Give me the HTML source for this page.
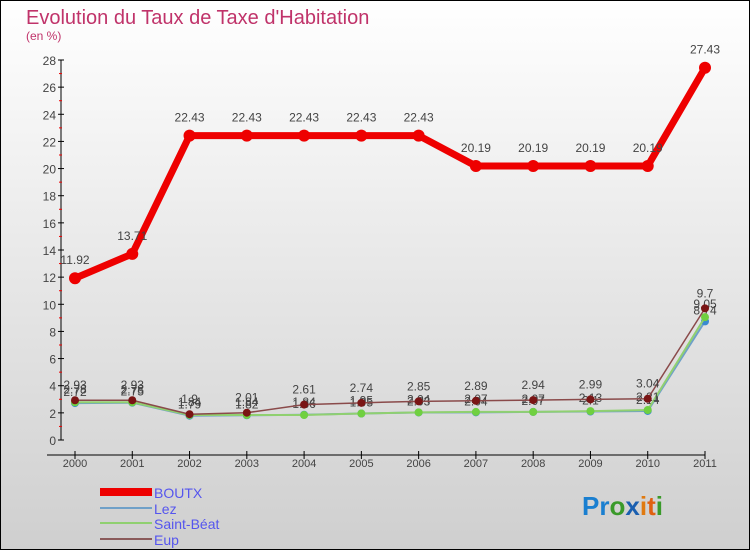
<!DOCTYPE html>
<html><head><meta charset="utf-8"><style>
html,body{margin:0;padding:0}
body{width:750px;height:550px;overflow:hidden;font-family:"Liberation Sans",sans-serif}
svg{display:block}
</style></head><body>
<svg id="chart" width="750" height="550" xmlns="http://www.w3.org/2000/svg">
<defs><linearGradient id="bg" x1="0" y1="0" x2="0" y2="1"><stop offset="0" stop-color="#ffffff"/><stop offset="1" stop-color="#cfcfcf"/></linearGradient></defs>
<rect x="0.5" y="0.5" width="749" height="549" fill="url(#bg)" stroke="#000"/>
<text x="26" y="24" font-size="20" fill="#c0336a">Evolution du Taux de Taxe d'Habitation</text>
<text x="26" y="40" font-size="12" fill="#c0336a">(en %)</text>
<g id="axes"></g>
<g id="series"></g>
<g id="legend">
<rect x="100" y="488" width="52" height="8" fill="#ee0000"/>
<text x="154" y="498" font-size="14" fill="#5555ee">BOUTX</text>
<rect x="100" y="507" width="52" height="2" fill="#6fa0c8"/>
<text x="154" y="514" font-size="14" fill="#5555ee">Lez</text>
<rect x="100" y="522" width="52" height="2" fill="#90d070"/>
<text x="154" y="529" font-size="14" fill="#5555ee">Saint-Béat</text>
<rect x="100" y="538" width="52" height="2" fill="#8a5a5a"/>
<text x="154" y="545" font-size="14" fill="#5555ee">Eup</text>
</g>
<g font-size="26" font-weight="bold">
<text x="582" y="515"><tspan fill="#1a7fd0">Pr</tspan><tspan fill="#3a9a2a">o</tspan><tspan fill="#1a5fb0">x</tspan><tspan fill="#e07a10">i</tspan><tspan fill="#e06010">t</tspan><tspan fill="#3a9a2a">i</tspan></text>
</g>
</svg>
<script>
const years=[2000,2001,2002,2003,2004,2005,2006,2007,2008,2009,2010,2011];
const boutx=[11.92,13.71,22.43,22.43,22.43,22.43,22.43,20.19,20.19,20.19,20.19,27.43];
const lez=[2.72,2.75,1.79,1.82,1.86,1.95,2.03,2.04,2.07,2.10,2.14,8.74];
const saintBeat=[2.78,2.78,1.84,1.84,1.84,1.95,2.04,2.07,2.07,2.13,2.21,9.05];
const eup=[2.93,2.93,1.90,2.01,2.61,2.74,2.85,2.89,2.94,2.99,3.04,9.7];
const yTicks=[0,2,4,6,8,10,12,14,16,18,20,22,24,26,28];
const NS="http://www.w3.org/2000/svg";
const x0=75,x1=705,yb=440,yt=60,yMax=28;
const X=i=>x0+(x1-x0)*i/(years.length-1);
const Y=v=>yb-(yb-yt)*v/yMax;
function mk(tag,attrs,parent){const e=document.createElementNS(NS,tag);for(const k in attrs)e.setAttribute(k,attrs[k]);parent.appendChild(e);return e;}
const axes=document.getElementById('axes');
let a=mk('line',{x1:61,y1:yt,x2:61,y2:yb,stroke:'#000'},axes);


a=mk('line',{x1:x0-28,y1:455,x2:x1,y2:455,stroke:'#000'},axes);


yTicks.forEach(t=>{
  mk('line',{x1:58,y1:Y(t),x2:64,y2:Y(t),stroke:'#000'},axes);
  if(t<yMax) mk('line',{x1:59,y1:Y(t+1),x2:62,y2:Y(t+1),stroke:'#e00'},axes);
  const tx=mk('text',{x:56,y:Y(t)+5,'font-size':12,fill:'#444','text-anchor':'end'},axes);
  tx.textContent=t;
  
  
});
years.forEach((yr,i)=>{
  mk('line',{x1:X(i),y1:451,x2:X(i),y2:459,stroke:'#000'},axes);
  const tx=mk('text',{x:X(i),y:467,'font-size':11,fill:'#444','text-anchor':'middle'},axes);
  tx.textContent=yr;
  
  
});
const sg=document.getElementById('series');
function draw(vals,name,color,w,r,dot,labelOff){
  const g=mk('g',{},sg);
  
  
  const p=mk('polyline',{points:vals.map((v,i)=>X(i)+','+Y(v)).join(' '),fill:'none',stroke:color,'stroke-width':w,'stroke-linejoin':'round'},g);
  
  
  vals.forEach((v,i)=>{
    const c=mk('circle',{cx:X(i),cy:Y(v),r:r,fill:dot},g);
    
    
    const t=mk('text',{x:X(i),y:Y(v)-labelOff,'font-size':12,fill:'#444','text-anchor':'middle'},g);
    t.textContent=v;
    
    
  });
}
draw(lez,'lez','#6fa0c8',2,4,'#3a8ad0',7);
draw(saintBeat,'saint-beat','#90d070',2,4,'#70d040',9);
draw(eup,'eup','#8a4a4a',1.5,4,'#7a1515',11);
draw(boutx,'boutx','#ee0000',7,6,'#ee0000',14);
</script>
</body></html>
